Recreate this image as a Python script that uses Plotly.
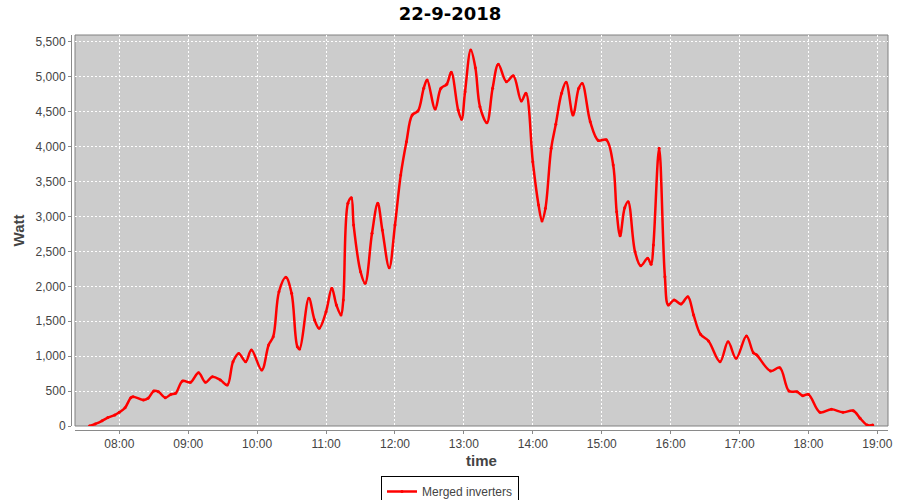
import pandas as pd
import plotly.graph_objects as go

DAY = "2018-09-22"

times = [
    "07:34", "07:39", "07:45", "07:50", "07:56", "08:00", "08:05", "08:10", "08:12", "08:21",
    "08:25", "08:30", "08:34", "08:40", "08:45", "08:49", "08:55", "09:02", "09:09", "09:15",
    "09:21", "09:28", "09:34", "09:39", "09:44", "09:50", "09:55", "10:04", "10:10", "10:14",
    "10:19", "10:25", "10:30", "10:35", "10:37", "10:45", "10:50", "10:54", "11:00", "11:05",
    "11:09", "11:13", "11:15", "11:19", "11:22", "11:24", "11:30", "11:34", "11:40", "11:45",
    "11:49", "11:55", "12:00", "12:05", "12:10", "12:15", "12:20", "12:25", "12:28", "12:35",
    "12:40", "12:45", "12:49", "12:55", "12:58", "13:01", "13:06", "13:10", "13:14", "13:20",
    "13:25", "13:30", "13:37", "13:43", "13:50", "13:54", "14:00", "14:05", "14:08", "14:11",
    "14:16", "14:20", "14:25", "14:29", "14:35", "14:40", "14:43", "14:50", "14:57", "15:04",
    "15:10", "15:13", "15:16", "15:20", "15:23", "15:29", "15:34", "15:40", "15:43", "15:45",
    "15:50", "15:55", "15:58", "16:03", "16:09", "16:15", "16:20", "16:26", "16:33", "16:43",
    "16:50", "16:57", "17:06", "17:12", "17:15", "17:27", "17:35", "17:43", "17:50", "17:55",
    "18:00", "18:10", "18:20", "18:30", "18:39", "18:45", "18:51", "18:56",
]
watts = [
    0, 30, 75, 120, 157, 196, 262, 406, 420, 372,
    396, 501, 491, 406, 454, 468, 644, 625, 763, 625,
    706, 659, 587, 921, 1040, 921, 1088, 802, 1160, 1279,
    1923, 2129, 1900, 1136, 1103, 1828, 1518, 1399, 1637, 1972,
    1733, 1590, 1804, 3189, 3270, 2878, 2210, 2043, 2760, 3189,
    2807, 2267, 2878, 3594, 4071, 4454, 4511, 4836, 4955, 4539,
    4836, 4893, 5065, 4525, 4392, 4787, 5384, 5131, 4573, 4343,
    4836, 5180, 4931, 5017, 4654, 4764, 3785, 3165, 2936, 3117,
    3977, 4320, 4764, 4922, 4454, 4836, 4907, 4358, 4090, 4100,
    3738, 3069, 2725, 3126, 3212, 2496, 2295, 2401, 2315, 2592,
    3977, 2138, 1733, 1804, 1747, 1852, 1590, 1313, 1217, 921,
    1207, 969, 1289, 1050, 1017, 788, 835, 501, 491, 434,
    454, 196, 239, 196, 219, 110, 14, 14,
]

x = pd.to_datetime([f"{DAY} {t}" for t in times])

GRAY_TEXT = "#444444"
AXIS_GRAY = "#8a8a8a"

fig = go.Figure()
fig.add_trace(
    go.Scatter(
        x=x,
        y=watts,
        name="Merged inverters",
        mode="lines+markers",
        line=dict(color="#ff0000", width=2.5, shape="spline", smoothing=1),
        marker=dict(color="#ff0000", size=3),
    )
)

fig.update_layout(
    width=900,
    height=500,
    paper_bgcolor="#ffffff",
    plot_bgcolor="#cccccc",
    margin=dict(l=71, r=12, t=35, b=70, autoexpand=False),
    title=dict(
        text="<b>22-9-2018</b>",
        x=0.5,
        xanchor="center",
        y=1 - 14 / 500,
        yanchor="middle",
        font=dict(family="DejaVu Sans", size=18, color="#000000"),
    ),
    font=dict(family="Liberation Sans", color=GRAY_TEXT, size=12),
    showlegend=True,
    legend=dict(
        orientation="h",
        xref="container",
        yref="container",
        x=0.5,
        xanchor="center",
        y=1 - 476 / 500,
        yanchor="top",
        bgcolor="#ffffff",
        bordercolor="#000000",
        borderwidth=1,
        itemwidth=30,
        font=dict(family="Liberation Sans", size=12, color=GRAY_TEXT),
    ),
    shapes=[
        dict(
            type="rect",
            xref="x domain",
            yref="y domain",
            x0=0,
            x1=1,
            y0=0,
            y1=1,
            line=dict(color="#808080", width=1),
            layer="below",
        )
    ],
)

fig.update_xaxes(
    type="date",
    range=[f"{DAY} 07:21:25", f"{DAY} 19:09:15"],
    domain=[4 / 817, 1],
    anchor="free",
    position=0,
    automargin=False,
    tickformat="%H:%M",
    dtick=3600000,
    tick0=f"{DAY} 08:00",
    showgrid=True,
    gridcolor="#ffffff",
    griddash="2px,2px",
    gridwidth=1,
    showline=True,
    linecolor=AXIS_GRAY,
    linewidth=1,
    ticks="outside",
    ticklen=3,
    tickcolor=AXIS_GRAY,
    tickfont=dict(family="Liberation Sans", size=12, color=GRAY_TEXT),
    title=dict(text="<b>time</b>", font=dict(family="Liberation Sans", size=15, color=GRAY_TEXT), standoff=5),
    zeroline=False,
)
fig.update_yaxes(
    range=[0, 5600],
    domain=[4 / 395, 1],
    anchor="free",
    position=0,
    automargin=False,
    dtick=500,
    tickformat=",d",
    showgrid=True,
    gridcolor="#ffffff",
    griddash="2px,2px",
    gridwidth=1,
    showline=True,
    linecolor=AXIS_GRAY,
    linewidth=1,
    ticks="outside",
    ticklen=3,
    tickcolor=AXIS_GRAY,
    tickfont=dict(family="Liberation Sans", size=12, color=GRAY_TEXT),
    title=dict(text="<b>Watt</b>", font=dict(family="Liberation Sans", size=15, color=GRAY_TEXT), standoff=6),
    zeroline=False,
)

# the page body keeps its default 8px margin otherwise
fig.write_html(
    "out.html",
    config={"displayModeBar": False},
    post_script="document.body.style.margin='0';",
)
